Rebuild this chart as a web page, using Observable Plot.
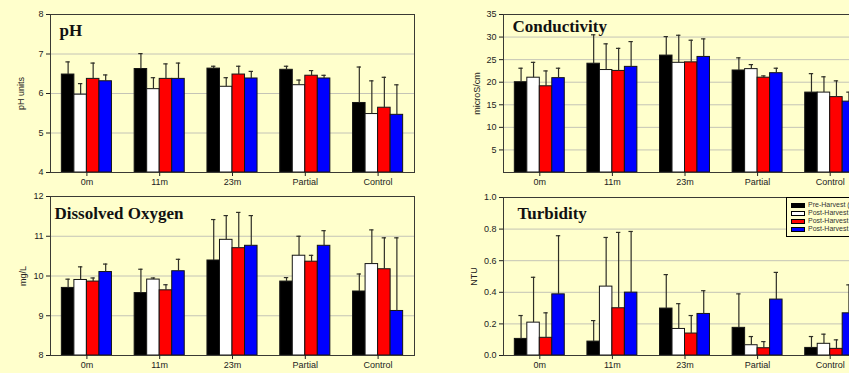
<!DOCTYPE html>
<html>
<head>
<meta charset="utf-8">
<script src="https://cdn.jsdelivr.net/npm/d3@7"></script>
<script src="https://cdn.jsdelivr.net/npm/@observablehq/plot@0.6"></script>
<style>
  html, body { margin: 0; padding: 0; background: #ffffcc; width: 849px; height: 373px; overflow: hidden; }
  #wrap { position: relative; width: 849px; height: 373px; overflow: hidden; }
  .panel { position: absolute; }
  .panel svg { max-width: none !important; }
  #legend { position: absolute; left: 786px; top: 197px; width: 90px; height: 38px; border: 1px solid #000; background: #ffffcc; font-family: "Liberation Sans", Arial, sans-serif; font-size: 7px; color: #333; }
  #legend .row { position: absolute; left: 4px; height: 8px; line-height: 8px; white-space: nowrap; }
  #legend .sw { display: inline-block; width: 14px; height: 5px; border: 1px solid #000; vertical-align: middle; margin-right: 3px; box-sizing: border-box; }
</style>
</head>
<body>
<div id="wrap"></div>
<script>
// ---- Data ----
const categories = ["0m", "11m", "23m", "Partial", "Control"];
const seriesNames = ["Pre-Harvest (2004)", "Post-Harvest (2005)", "Post-Harvest (2006)", "Post-Harvest (2007)"];
const seriesColors = ["#000000", "#ffffff", "#ff0000", "#0000ff"];

// per category: [pre, post1, post2, post3]
const phMean = [[6.48, 5.97, 6.37, 6.31], [6.62, 6.11, 6.37, 6.37], [6.63, 6.17, 6.48, 6.38], [6.60, 6.21, 6.45, 6.38], [5.76, 5.48, 5.64, 5.46]];
const phErr  = [[0.32, 0.28, 0.40, 0.16], [0.39, 0.29, 0.38, 0.40], [0.06, 0.23, 0.21, 0.18], [0.09, 0.13, 0.13, 0.08], [0.91, 0.84, 0.77, 0.76]];
const phTicks = [4, 5, 6, 7, 8];

const condMean = [[20.0, 21.0, 19.1, 20.9], [24.1, 22.7, 22.5, 23.4], [25.9, 24.3, 24.4, 25.6], [22.6, 22.9, 21.0, 22.0], [17.7, 17.7, 16.7, 15.7]];
const condErr  = [[3.1, 3.4, 3.4, 2.2], [6.4, 5.8, 5.0, 5.6], [4.2, 6.1, 4.9, 4.0], [2.8, 1.0, 0.4, 1.1], [4.2, 3.5, 3.6, 2.1]];
const condTicks = [5, 10, 15, 20, 25, 30, 35];

const doMean = [[9.70, 9.90, 9.86, 10.10], [9.57, 9.91, 9.64, 10.12], [10.39, 10.91, 10.70, 10.76], [9.86, 10.51, 10.36, 10.76], [9.61, 10.30, 10.17, 9.12]];
const doErr  = [[0.22, 0.33, 0.09, 0.20], [0.60, 0.04, 0.14, 0.30], [1.03, 0.61, 0.90, 0.76], [0.10, 0.49, 0.16, 0.38], [0.44, 0.86, 0.79, 1.84]];
const doTicks = [8, 9, 10, 11, 12];

const turbMean = [[0.105, 0.208, 0.112, 0.387], [0.088, 0.436, 0.299, 0.398], [0.297, 0.168, 0.139, 0.263], [0.175, 0.065, 0.046, 0.354], [0.048, 0.074, 0.042, 0.267]];
const turbErr  = [[0.148, 0.287, 0.158, 0.371], [0.133, 0.311, 0.480, 0.387], [0.215, 0.160, 0.114, 0.147], [0.215, 0.055, 0.042, 0.172], [0.072, 0.061, 0.057, 0.180]];
const turbTicks = [0, 0.2, 0.4, 0.6, 0.8, 1.0];

// ---- Drawing ----
const BW = 0.172;   // bar width as fraction of category band
const CAP = 0.03;   // half cap width
const xc = d => d.ci + 0.5 + (d.sj - 1.5) * BW;

function rowsFor(means, errs) {
  const out = [];
  means.forEach((g, i) => g.forEach((v, j) => out.push({ci: i, sj: j, v, top: v + errs[i][j]})));
  return out;
}

function panel(o) {
  const rows = rowsFor(o.mean, o.err);
  const dom = [o.ticks[0], o.ticks[o.ticks.length - 1]];
  const grid = o.ticks.slice(1, -1);
  return Plot.plot({
    width: o.width, height: o.height,
    marginLeft: o.ml, marginRight: o.mr, marginTop: o.mt, marginBottom: o.mb,
    x: {domain: [0, categories.length]},
    y: {domain: dom},
    style: {background: "transparent", fontFamily: "Liberation Sans, Arial, sans-serif", fontSize: "9px", color: "#222", overflow: "visible"},
    marks: [
      Plot.ruleY(grid, {stroke: "#c4c4b6", strokeWidth: 1}),
      Plot.rect(rows, {
        x1: d => d.ci + 0.5 + (d.sj - 2) * BW,
        x2: d => d.ci + 0.5 + (d.sj - 1) * BW,
        y1: () => dom[0], y2: "v",
        fill: d => seriesColors[d.sj], stroke: "#151515", strokeWidth: 1
      }),
      Plot.ruleX(rows, {x: xc, y1: "v", y2: "top", stroke: "#2e2e26", strokeWidth: 1.2}),
      Plot.ruleY(rows, {y: "top", x1: d => xc(d) - CAP, x2: d => xc(d) + CAP, stroke: "#2e2e26", strokeWidth: 1.2}),
      Plot.frame({stroke: "#3a3a34"}),
      Plot.axisY({
        ticks: o.ticks.filter(t => !(o.skipZero && t === 0)), tickFormat: o.fmt, tickSize: 4, tickPadding: 3,
        label: o.label, labelAnchor: "center", labelArrow: "none", labelOffset: o.lo, fontSize: 9
      }),
      Plot.axisX({
        ticks: categories.map((c, i) => i + 0.5), tickFormat: v => categories[Math.round(v - 0.5)],
        tickSize: 4, tickPadding: 2, label: null, fontSize: 9
      }),
      Plot.text([o.title], {
        frameAnchor: "top-left", dx: o.tdx, dy: o.tdy, lineAnchor: "bottom",
        fontFamily: "Liberation Serif, Times New Roman, serif", fontWeight: "bold", fontSize: 17, fill: "#111"
      })
    ]
  });
}

function place(svg, left, top, width) {
  const d = document.createElement("div");
  d.className = "panel";
  d.style.left = left + "px"; d.style.top = top + "px"; d.style.width = width + "px";
  d.appendChild(svg);
  document.getElementById("wrap").appendChild(d);
}

place(panel({mean: phMean, err: phErr, ticks: phTicks, fmt: d3.format("d"), label: "pH units", lo: 33,
  title: "pH", tdx: 9, tdy: 21, width: 430, height: 190, ml: 50, mr: 16, mt: 14, mb: 18}), 0, 0, 430);

place(panel({mean: condMean, err: condErr, ticks: [0, ...condTicks], skipZero: true, fmt: d3.format("d"), label: "microS/cm", lo: 30,
  title: "Conductivity", tdx: 9, tdy: 17, width: 440, height: 190, ml: 73, mr: 4, mt: 14, mb: 18}), 430, 0, 440);

place(panel({mean: doMean, err: doErr, ticks: doTicks, fmt: d3.format("d"), label: "mg/L", lo: 31,
  title: "Dissolved Oxygen", tdx: 4, tdy: 22, width: 430, height: 191, ml: 50, mr: 16, mt: 14, mb: 18}), 0, 182, 430);

place(panel({mean: turbMean, err: turbErr, ticks: turbTicks, fmt: d3.format(".1f"), label: "NTU", lo: 33,
  title: "Turbidity", tdx: 14, tdy: 21, width: 440, height: 191, ml: 73, mr: 4, mt: 15, mb: 18}), 430, 182, 440);

// legend
const lg = document.createElement("div");
lg.id = "legend";
seriesNames.forEach((name, j) => {
  const r = document.createElement("div");
  r.className = "row";
  r.style.top = (3 + j * 8) + "px";
  const sw = document.createElement("span");
  sw.className = "sw";
  sw.style.background = seriesColors[j];
  r.appendChild(sw);
  r.appendChild(document.createTextNode(name));
  lg.appendChild(r);
});
document.getElementById("wrap").appendChild(lg);
</script>
</body>
</html>
